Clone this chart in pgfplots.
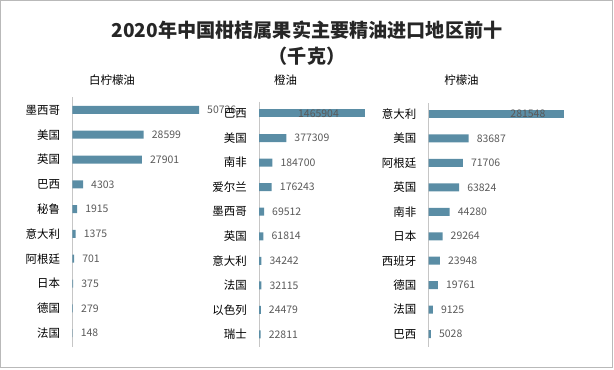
\documentclass[border=0pt]{standalone}
\usepackage{pgfplots}
\pgfplotsset{compat=1.18}
\usepackage{fontspec}
\setmainfont{Noto Sans CJK SC}
\definecolor{barc}{HTML}{5A8DA5}
\definecolor{lab}{HTML}{595959}
\definecolor{ttl}{HTML}{262626}
\pgfplotsset{
  panel/.style={
    scale only axis, xbar, bar width=8bp, bar shift=0pt,
    y dir=reverse, xmin=0, clip=false, enlargelimits=false,
    axis x line=none, axis y line*=left,
    y axis line style={draw=gray!45, line width=0.8bp, -},
    ytick={0,...,9}, major tick length=0pt,
    yticklabel style={font=\fontsize{11.5}{12}\selectfont, inner sep=0pt, anchor=east, xshift=-12bp, text=black},
    point meta=explicit symbolic,
    nodes near coords,
    every node near coord/.append style={font=\fontsize{10.5}{12}\selectfont, text=lab, anchor=west, inner sep=0pt, xshift=8bp},
  }
}
\begin{document}
\begin{tikzpicture}
\path (0,0) rectangle (614bp,-370bp);
\draw[gray!55, line width=1bp] (0.5bp,-0.5bp) rectangle (612.5bp,-367.5bp);
\node[font=\bfseries\fontsize{19.2}{22}\selectfont, text=ttl] at (307bp,-30bp) {2020年中国柑桔属果实主要精油进口地区前十};
\node[font=\bfseries\fontsize{19.2}{22}\selectfont, text=ttl] at (307bp,-56.7bp) {（千克）};
\node[font=\fontsize{11.5}{12}\selectfont] at (112bp,-80bp) {白柠檬油};
\node[font=\fontsize{11.5}{12}\selectfont] at (285.5bp,-80bp) {橙油};
\node[font=\fontsize{11.5}{12}\selectfont] at (461.5bp,-80bp) {柠檬油};

% Panel 1
\begin{axis}[panel, at={(72.3bp,-97.3bp)}, anchor=north west,
  width=126.7bp, height=249.2bp, xmax=50726, ymin=-0.51, ymax=9.54,
  yticklabels={墨西哥,美国,英国,巴西,秘鲁,意大利,阿根廷,日本,德国,法国}]
\addplot[fill=barc, draw=none] coordinates {
 (50726,0) [50726] (28599,1) [28599] (27901,2) [27901] (4303,3) [4303]
 (1915,4) [1915] (1375,5) [1375] (701,6) [701] (375,7) [375]
 (279,8) [279] (148,9) [148]};
\end{axis}

% Panel 2
\begin{axis}[panel, at={(259bp,-101.7bp)}, anchor=north west,
  width=106bp, height=245.3bp, xmax=1465904, ymin=-0.48, ymax=9.51,
  yticklabels={巴西,美国,南非,爱尔兰,墨西哥,英国,意大利,法国,以色列,瑞士}]
\addplot[fill=barc, draw=none, every node near coord/.append style={anchor=center, xshift=-54.5bp}] coordinates {
 (1465904,0) [1465904]};
\addplot[fill=barc, draw=none] coordinates {
 (377309,1) [377309] (184700,2) [184700] (176243,3) [176243]
 (69512,4) [69512] (61814,5) [61814] (34242,6) [34242] (32115,7) [32115]
 (24479,8) [24479] (22811,9) [22811]};
\end{axis}

% Panel 3
\begin{axis}[panel, at={(428.5bp,-103.3bp)}, anchor=north west,
  width=135bp, height=243.4bp, xmax=281548, ymin=-0.44, ymax=9.52,
  yticklabels={意大利,美国,阿根廷,英国,南非,日本,西班牙,德国,法国,巴西}]
\addplot[fill=barc, draw=none, every node near coord/.append style={anchor=center, xshift=-43.6bp}] coordinates {
 (281548,0) [281548]};
\addplot[fill=barc, draw=none] coordinates {
 (83687,1) [83687] (71706,2) [71706] (63824,3) [63824] (44280,4) [44280]
 (29264,5) [29264] (23948,6) [23948] (19761,7) [19761] (9125,8) [9125]
 (5028,9) [5028]};
\end{axis}
\end{tikzpicture}
\end{document}
